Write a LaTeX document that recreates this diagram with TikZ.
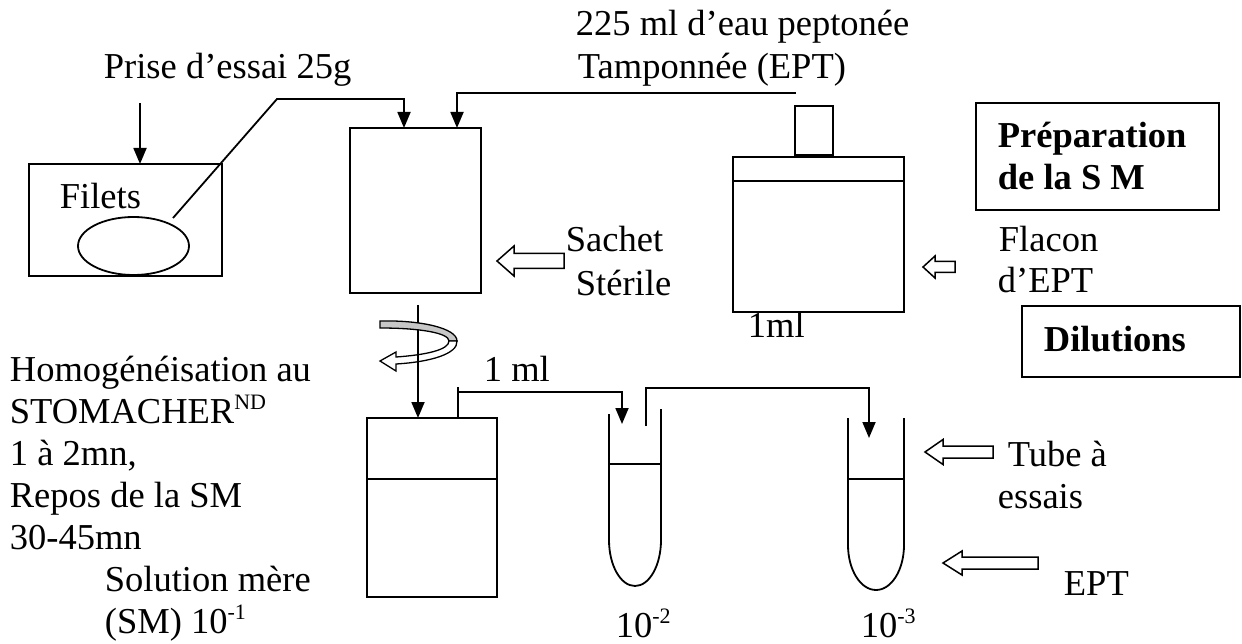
\documentclass[tikz,border=0pt]{standalone}
\usepackage{fontspec}
\setmainfont{Liberation Serif}
\usetikzlibrary{arrows.meta,shapes.geometric}
\newcommand\supx[1]{\raisebox{0.36em}{\fontsize{22}{22}\selectfont #1}}
\newcommand\hollowL[6]{% tipx, tipy, headback, headhalf, shafthalf, tailx
  \draw[line width=1.5pt,fill=white] (#1,#2) -- (#3,{#2-#4}) -- (#3,{#2-#5}) -- (#6,{#2-#5}) -- (#6,{#2+#5}) -- (#3,{#2+#5}) -- (#3,{#2+#4}) -- cycle;}
\begin{document}
\begin{tikzpicture}[x=1pt,y=-1pt,line width=1.8pt,
  txt/.style={inner sep=0pt,anchor=base west,font=\fontsize{36.5}{42}\selectfont},
  btxt/.style={txt,font=\fontsize{36.5}{42}\selectfont\bfseries},
  boxn/.style={draw,rectangle,inner sep=0pt,outer sep=0pt,anchor=north west},
  arr/.style={-{Triangle[length=16pt,width=13pt]}}]
\useasboundingbox (0,0) rectangle (1242,644);
% ---- texts
\node[txt] (prise) at (103,79) {Prise d’essai 25g};
\node[txt] (eau1) at (575,36) {225 ml d’eau peptonée};
\node[txt] (eau2) at (577,79) {Tamponnée (EPT)};
\node[txt] (filetst) at (59,209) {Filets};
\node[txt] (sachet1) at (565,252) {Sachet};
\node[txt] (sachet2) at (575,295) {Stérile};
\node[txt] (flac1) at (998,252) {Flacon};
\node[txt] (flac2) at (997,293) {d’EPT};
\node[txt] (unml) at (747,337) {1ml};
\node[txt] (unml2) at (483,381) {1 ml};
\node[txt] (l1) at (9,381) {Homogénéisation au};
\node[txt] (l2) at (9,423) {STOMACHER\supx{ND}};
\node[txt] (l3) at (9,465) {1 à 2mn,};
\node[txt] (l4) at (9,507) {Repos de la SM};
\node[txt] (l5) at (9,549) {30-45mn};
\node[txt] (l6) at (104,591) {Solution mère};
\node[txt] (l7) at (104,633) {(SM) 10\supx{-1}};
\node[txt] (d2) at (615,637) {10\supx{-2}};
\node[txt] (d3) at (860,637) {10\supx{-3}};
\node[txt] (tube1) at (1007,466) {Tube à};
\node[txt] (tube2) at (997,508) {essais};
\node[txt] (eptt) at (1063,595) {EPT};
% ---- boxes
\node[boxn,minimum width=193pt,minimum height=112pt] (filets) at (29,164) {};
\node[draw,ellipse,inner sep=0pt,minimum width=111pt,minimum height=58pt] (fish) at (133.5,246) {};
\node[boxn,minimum width=131pt,minimum height=165pt] (bag) at (350,128) {};
\node[boxn,minimum width=38pt,minimum height=49pt] (cap) at (795,106) {};
\node[boxn,minimum width=171pt,minimum height=155pt] (flacon) at (733,157) {};
\draw (flacon.west |- 0,181) -- (flacon.east |- 0,181);
\node[boxn,line width=2pt,minimum width=243pt,minimum height=107pt] (prep) at (976,103) {};
\node[btxt] (prept1) at (997,148) {Préparation};
\node[btxt] (prept2) at (997,190) {de la S M};
\node[boxn,line width=2pt,minimum width=218pt,minimum height=71pt] (dil) at (1022,306) {};
\node[btxt] (dilt) at (1043,351) {Dilutions};
\node[boxn,minimum width=130pt,minimum height=179pt] (sm) at (367,418) {};
\draw (sm.west |- 0,479) -- (sm.east |- 0,479);
% ---- tubes
\draw (609,414) -- (609,540) arc[start angle=180,end angle=0,x radius=26,y radius=46] -- (661,409);
\draw (609,464) -- (661,464);
\draw (848,418) -- (848,545) arc[start angle=180,end angle=0,x radius=28,y radius=45] -- (904,418);
\draw (848,479) -- (904,479);
\coordinate (t1top) at (622,424);
\coordinate (t2top) at (869,438);
% ---- connectors
\coordinate (p1) at (140,103);
\draw[arr] (p1) -- (filets.north -| p1);
\coordinate (f1) at (173,218);
\coordinate (f2) at (277,99);
\draw[arr] (f1) -- (f2) -- (404,99) -- (bag.north -| 404,0);
\coordinate (e1) at (796,93);
\draw[arr] (e1) -- (457,93) -- (bag.north -| 457,0);
\coordinate (b1) at (418,305);
\draw[arr] (b1) -- (sm.north -| b1);
\draw (458,387) -- (458,392);
\draw[arr] (sm.north -| 458,0) -- (458,392) -- (622,392) -- (t1top);
\draw[arr] (646,426) -- (646,388) -- (869,388) -- (t2top);
% ---- rotation arrow
\draw[line width=1.3pt,fill=black!22] (380,321) .. controls (420,320) and (457,328) .. (457,341)
  -- (449,341) .. controls (449,333) and (420,328) .. (380,328) -- cycle;
\draw[line width=1.3pt,fill=white] (457,341) .. controls (458,354) and (430,362) .. (396,364)
  -- (396,371) -- (380,361) -- (396,352) -- (396,357)
  .. controls (425,355) and (449,350) .. (449,341) -- cycle;
\draw (418,330) -- (418,368);
% ---- hollow arrows
\hollowL{497}{261}{514}{15}{7.5}{564}
\hollowL{923}{267}{935}{11}{5.5}{955}
\hollowL{925}{452}{943}{12.5}{6}{993}
\hollowL{943}{563}{962}{12}{6}{1038}
\end{tikzpicture}
\end{document}
